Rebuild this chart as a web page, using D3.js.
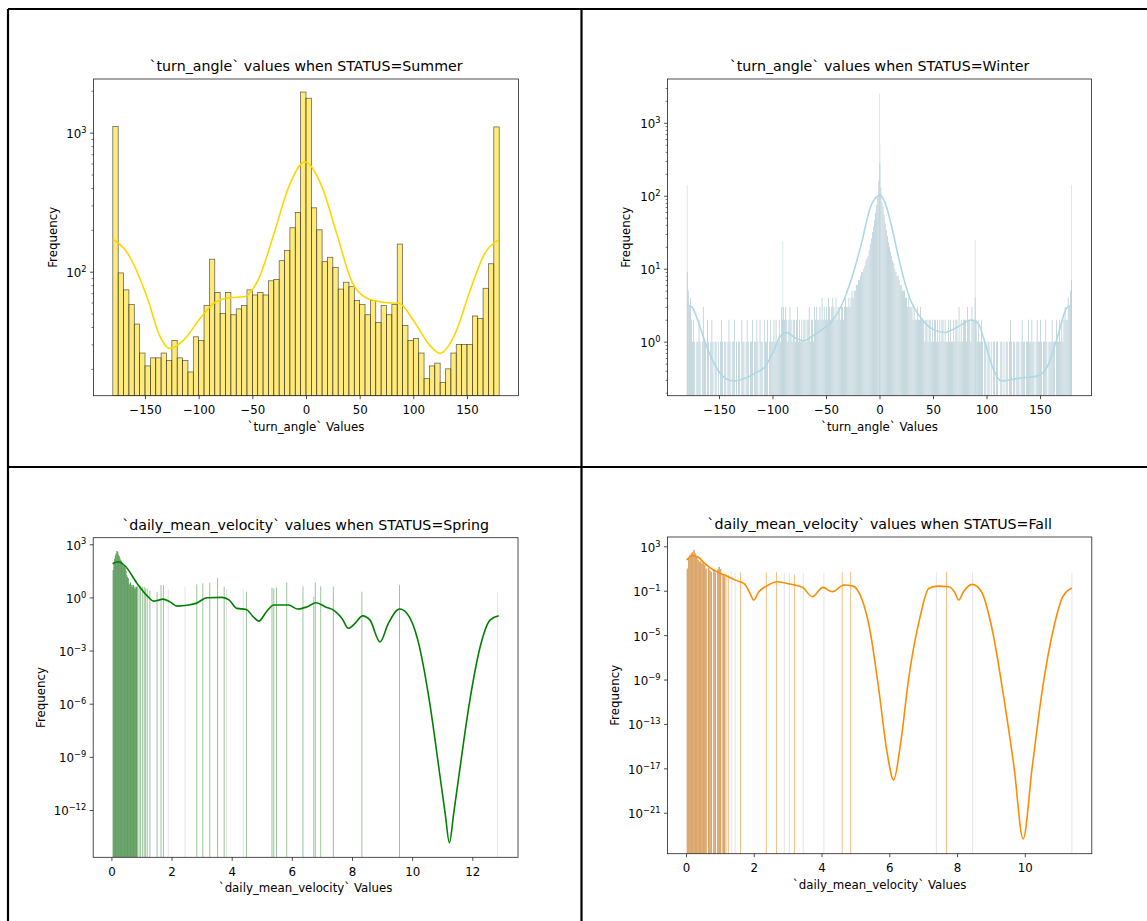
<!DOCTYPE html>
<html>
<head>
<meta charset="utf-8">
<script src="https://cdn.jsdelivr.net/npm/d3@7"></script>
<style>
  body { margin: 0; background: #fff; }
  svg { display: block; }
  text { font-family: "DejaVu Sans", sans-serif; fill: #000; }
</style>
</head>
<body>
<div id="chart"></div>
<script>
// ---- data ----

// turn_angle, Summer: 5 degree bins from -180
const summerStart = -180, summerWidth = 5;
const summerCounts = [
  1110, 98, 74, 58, 42, 26, 21, 24, 24, 26, 23, 32, 24, 23, 19, 34, 32, 57,
  123, 71, 50, 71, 49, 54, 57, 74, 68, 71, 68, 86, 88, 120, 142, 207, 267, 1960,
  1770, 288, 200, 118, 127, 107, 75, 84, 78, 62, 58, 49, 62, 43, 57, 49, 58, 158,
  41, 32, 33, 26, 17, 21, 22, 16, 20, 26, 30, 30, 30, 48, 46, 76, 114, 1100
];
const summerKde = [
  [-180, 171], [-168, 142], [-147, 62], [-137, 35.6], [-126.7, 28], [-112.7, 33],
  [-98.8, 46], [-85, 60], [-71.7, 65], [-57.8, 66], [-50.7, 73], [-43.8, 90],
  [-29.8, 188], [-16.2, 406], [-1, 616], [15, 406], [28.6, 188], [42.4, 86],
  [56, 65], [73.6, 60], [87, 59], [100.6, 44], [114.6, 30], [124.9, 25.9],
  [138.8, 35.6], [152.8, 73], [166.5, 135], [179.5, 170]
];

// turn_angle, Winter: 1 degree bins from -180
const winterStart = -180, winterWidth = 1;
const winterCounts = [
  9, 5, 3, 4, 2, 1, 2, 1, 0, 1,   1, 2, 1, 0, 1, 3, 1, 1, 0, 2,
  1, 0, 1, 2, 1, 0, 1, 1, 0, 1,   0, 1, 2, 1, 0, 1, 1, 0, 1, 2,
  1, 0, 1, 1, 2, 0, 1, 0, 1, 1,   0, 2, 1, 1, 0, 1, 2, 1, 0, 1,
  1, 2, 0, 1, 1, 2, 1, 0, 2, 1,   1, 0, 2, 1, 1, 2, 0, 1, 2, 1,
  1, 2, 1, 2, 1, 1, 2, 1, 3, 2,   3, 2, 3, 2, 1, 2, 3, 2, 1, 2,
  2, 1, 2, 3, 1, 2, 1, 2, 1, 2,   2, 1, 2, 2, 3, 1, 2, 2, 1, 3,
  2, 3, 2, 2, 3, 2, 4, 2, 3, 2,   3, 2, 4, 3, 2, 3, 4, 3, 2, 4,
  2, 3, 3, 2, 3, 3, 2, 3, 4, 3,   3, 4, 3, 4, 5, 4, 5, 5, 6, 6,
  7, 7, 8, 9, 9, 10, 11, 13, 14, 15,   18, 22, 26, 32, 38, 46, 58, 75, 100, 160,
  280, 130, 83, 70, 54, 42, 34, 28, 23, 20,   17, 15, 13, 12, 10, 9, 8, 8, 7, 6,
  6, 5, 5, 5, 4, 4, 3, 4, 3, 3,   3, 2, 3, 2, 2, 3, 2, 2, 3, 2,
  2, 2, 1, 2, 2, 1, 2, 2, 1, 2,   1, 2, 2, 1, 2, 1, 2, 1, 2, 2,
  1, 2, 1, 1, 2, 1, 2, 1, 1, 2,   1, 2, 2, 1, 3, 1, 2, 1, 2, 2,
  2, 1, 3, 2, 2, 1, 3, 2, 2, 4,   2, 1, 2, 1, 1, 2, 1, 0, 1, 1,
  0, 1, 1, 0, 1, 0, 1, 1, 0, 1,   1, 0, 0, 1, 1, 0, 1, 0, 1, 1,
  0, 1, 2, 1, 0, 1, 1, 0, 1, 1,   1, 0, 1, 2, 1, 1, 0, 1, 1, 2,
  1, 1, 2, 1, 1, 0, 1, 2, 1, 1,   2, 1, 0, 1, 1, 2, 1, 0, 1, 1,
  1, 2, 1, 1, 0, 2, 1, 1, 2, 1,   2, 1, 2, 3, 2, 2, 4, 3, 5, 7
];
const winterSpikes = [[-179.6, 140], [-90.4, 24], [0, 2500], [0.4, 520], [89.5, 25], [179.4, 140]];
const winterKde = [
  [-180, 3.18], [-175.5, 3.0], [-169.3, 1.88], [-163, 1.0], [-156.8, 0.59],
  [-147.5, 0.35], [-136.6, 0.29], [-125.7, 0.315], [-116.4, 0.37], [-107, 0.455],
  [-99.2, 0.73], [-93, 1.17], [-86.7, 1.33], [-80.5, 1.17], [-71.2, 1.03],
  [-63.4, 1.17], [-54, 1.45], [-44.7, 1.88], [-35.3, 3.18], [-26, 7.4],
  [-16.6, 23], [-8.9, 67], [-2.6, 97], [0.3, 102], [4.8, 83], [11, 40],
  [17.3, 15.4], [23.5, 6.6], [29.7, 3.5], [39, 2.1], [48.4, 1.52], [61, 1.34],
  [73.4, 1.6], [85.9, 1.98], [92.1, 1.79], [98.3, 1.0], [106.1, 0.43],
  [113.9, 0.29], [129.5, 0.315], [148.2, 0.34], [157.6, 0.48], [166.9, 1.24],
  [174.7, 2.87], [179.4, 3.18]
];

// daily_mean_velocity, Spring
const springStart = 0.04, springWidth = 0.025;
const springCounts = [
  35, 100, 150, 230, 300, 420, 380, 250, 210, 160, 130, 110, 90, 80, 56, 60, 45,
  30, 18, 14, 12, 6, 5, 7, 4, 5, 4, 5, 3, 4, 3, 4, 3
];
const springSparse = [
  [0.87, 4.3], [0.92, 3.5], [0.97, 4.5], [1.03, 4], [1.09, 4], [1.13, 3.2],
  [1.19, 3.2], [1.28, 2.5], [1.52, 2.1], [1.65, 5], [1.73, 4.9], [2.84, 5.4],
  [3.04, 6.2], [3.27, 6.6], [3.53, 12.8], [3.75, 4], [4.49, 2.1], [5.34, 3.6],
  [5.40, 3.2], [5.49, 3.6], [5.83, 7], [6.37, 4.2], [6.73, 1.1], [6.78, 7],
  [6.96, 4.2], [7.38, 4], [8.33, 2.1], [9.58, 4.9]
];
const springGhost = [[1.89, 3], [2.45, 4], [3.83, 3], [4.38, 3], [12.84, 2.1]];
const springKde = [
  [0.04, 80], [0.23, 102], [0.48, 54], [0.85, 6.2], [1.22, 1.07], [1.4, 0.62],
  [1.55, 0.68], [1.71, 0.8], [1.95, 0.56], [2.2, 0.32], [2.57, 0.37], [2.81, 0.46],
  [3.18, 0.95], [3.68, 1.0], [3.92, 0.7], [4.17, 0.24], [4.48, 0.21], [4.72, 0.08],
  [4.9, 0.046], [5.15, 0.15], [5.4, 0.37], [5.89, 0.37], [6.2, 0.22], [6.5, 0.29],
  [6.81, 0.5], [7.12, 0.29], [7.43, 0.17], [7.67, 0.065], [7.88, 0.018], [8.1, 0.034],
  [8.35, 0.091], [8.6, 0.052], [8.93, 0.0031], [9.21, 0.034], [9.58, 0.22],
  [9.83, 0.125], [10.19, 0.0039], [10.57, 1.6e-6], [10.93, 7.3e-11], [11.1, 6e-13],
  [11.24, 1.4e-14], [11.38, 6e-13], [11.55, 7.3e-11], [11.92, 1.6e-6],
  [12.29, 0.0025], [12.59, 0.052], [12.88, 0.091]
];

// daily_mean_velocity, Fall
const fallStart = 0.02, fallWidth = 0.039;
const fallCounts = [
  10, 83, 165, 234, 325, 465, 234, 116, 58, 41, 45, 29, 33, 21, 10, 0, 12, 7, 5,
  0, 9, 4, 0, 8, 14, 9, 0, 3, 2
];
const fallSparse = [
  [1.18, 3], [1.25, 2.5], [1.61, 4.5], [2.37, 4.5], [2.67, 5.2], [3.2, 3],
  [4.61, 4.5], [4.86, 5.2], [7.69, 5.2]
];
const fallGhost = [
  [1.35, 5], [1.45, 4], [2.9, 4], [3.05, 4], [3.46, 4], [4.07, 4], [7.39, 4.5],
  [8.46, 4.5], [11.39, 4]
];
const fallKde = [
  [0.02, 58], [0.18, 141], [0.34, 116], [0.55, 29], [0.82, 7], [1.14, 2.6],
  [1.46, 0.9], [1.73, 0.4], [1.89, 0.058], [2.0, 0.0145], [2.15, 0.081],
  [2.37, 0.26], [2.69, 0.65], [3.06, 0.4], [3.44, 0.2], [3.73, 0.029], [4.04, 0.2],
  [4.32, 0.081], [4.66, 0.33], [4.93, 0.26], [5.2, 0.0145], [5.41, 5.7e-5],
  [5.68, 2.2e-10], [5.94, 2.2e-16], [6.13, 8.9e-19], [6.32, 8.9e-16], [6.58, 1.8e-9],
  [6.91, 4.6e-4], [7.17, 0.165], [7.44, 0.26], [7.76, 0.23], [7.92, 0.081],
  [8.05, 0.0145], [8.19, 0.081], [8.45, 0.37], [8.72, 0.081], [9.04, 2.9e-5],
  [9.36, 5.7e-11], [9.68, 1.4e-17], [9.95, 4.3e-24], [10.22, 1.4e-17],
  [10.53, 2.2e-10], [10.86, 5.7e-5], [11.12, 0.029], [11.39, 0.175]
];

// tick labels
const angleTicks = [-150, -100, -50, 0, 50, 100, 150];
const springTicks = [0, 2, 4, 6, 8, 10, 12];
const fallTicks = [0, 2, 4, 6, 8, 10];
const summerExp = [2, 3];
const winterExp = [0, 1, 2, 3];
const springExp = [-12, -9, -6, -3, 0, 3];
const fallExp = [-21, -17, -13, -9, -5, -1, 3];

// ---- drawing ----
const tickFont = 11.8, titleFont = 14.2;

const svg = d3.select('#chart').append('svg')
    .attr('width', 1147)
    .attr('height', 921);

const minus = s => String(s).replace('-', '\u2212');

function drawPanel(p) {
  const x = d3.scaleLinear().domain(p.xDomain).range([p.left, p.right]);
  const y = d3.scaleLog().domain(p.yDomain).range([p.bottom, p.top]);

  svg.append('clipPath').attr('id', 'clip' + p.id)
    .append('rect')
    .attr('x', p.left).attr('y', p.top)
    .attr('width', p.right - p.left).attr('height', p.bottom - p.top);

  const g = svg.append('g');
  const plot = g.append('g').attr('clip-path', `url(#clip${p.id})`);

  // faint lines of very narrow bins
  plot.append('g').selectAll('rect')
    .data(p.ghost || [])
    .join('rect')
    .attr('x', d => x(d[0]) - 0.5)
    .attr('width', 1)
    .attr('y', d => y(d[1]))
    .attr('height', d => p.bottom - y(d[1]))
    .attr('fill', p.ghostColor || '#e4e4e4');

  const bins = p.counts
    .map((c, i) => ({x0: p.start + i * p.width, x1: p.start + (i + 1) * p.width, c}))
    .filter(d => d.c > 0);

  plot.append('g').selectAll('rect')
    .data(bins)
    .join('rect')
    .attr('x', d => x(d.x0))
    .attr('width', d => (x(d.x1) - x(d.x0)) * p.barScale + p.barPad)
    .attr('y', d => y(d.c))
    .attr('height', d => p.bottom - y(d.c))
    .attr('fill', p.barColor)
    .attr('fill-opacity', p.barOpacity)
    .attr('stroke', p.edge ? '#222' : 'none')
    .attr('stroke-opacity', 0.75)
    .attr('stroke-width', 0.7);

  plot.append('g').selectAll('rect')
    .data(p.sparse || [])
    .join('rect')
    .attr('x', d => x(d[0]) - 0.5)
    .attr('width', 1)
    .attr('y', d => y(d[1]))
    .attr('height', d => p.bottom - y(d[1]))
    .attr('fill', p.sparseColor);

  const line = d3.line()
    .x(d => x(d[0]))
    .y(d => y(d[1]))
    .curve(d3.curveMonotoneX);

  plot.append('path')
    .datum(p.kde)
    .attr('d', line)
    .attr('fill', 'none')
    .attr('stroke', p.lineColor)
    .attr('stroke-width', 1.6);

  // frame
  g.append('rect')
    .attr('x', p.left).attr('y', p.top)
    .attr('width', p.right - p.left).attr('height', p.bottom - p.top)
    .attr('fill', 'none')
    .attr('stroke', '#222')
    .attr('stroke-width', 0.8);

  // x axis
  const xa = g.append('g')
    .attr('transform', `translate(0,${p.bottom})`)
    .call(d3.axisBottom(x).tickValues(p.xTicks).tickSize(3.5).tickPadding(6.5)
      .tickFormat(d => minus(d)));
  xa.select('.domain').remove();
  xa.selectAll('line').attr('stroke', '#222').attr('stroke-width', 0.8);
  xa.selectAll('text').attr('font-size', tickFont).attr('font-family', '"DejaVu Sans", sans-serif');

  // y axis, major
  const majors = p.exps.map(e => Math.pow(10, e));
  const ya = g.append('g')
    .attr('transform', `translate(${p.left},0)`)
    .call(d3.axisLeft(y).tickValues(majors).tickSize(3.5).tickFormat(''));
  ya.select('.domain').remove();
  ya.selectAll('line').attr('stroke', '#222').attr('stroke-width', 0.8);

  if (p.minor) {
    const minors = [];
    for (let e = -2; e < 5; e++) {
      for (let k = 2; k < 10; k++) {
        const v = k * Math.pow(10, e);
        if (v >= p.yDomain[0] && v <= p.yDomain[1]) minors.push(v);
      }
    }
    const ym = g.append('g')
      .attr('transform', `translate(${p.left},0)`)
      .call(d3.axisLeft(y).tickValues(minors).tickSize(2).tickFormat(''));
    ym.select('.domain').remove();
    ym.selectAll('line').attr('stroke', '#222').attr('stroke-width', 0.6);
  }

  const lab = g.append('g').selectAll('text')
    .data(p.exps)
    .join('text')
    .attr('x', p.left - 7)
    .attr('y', e => y(Math.pow(10, e)) + 5.5)
    .attr('text-anchor', 'end')
    .attr('font-size', tickFont);
  lab.append('tspan').text('10');
  lab.append('tspan')
    .attr('font-size', 8.3)
    .attr('dy', -5.3)
    .text(e => minus(e));

  // texts
  g.append('text')
    .attr('x', (p.left + p.right) / 2)
    .attr('y', p.top - 8)
    .attr('text-anchor', 'middle')
    .attr('font-size', titleFont)
    .text(p.title);

  g.append('text')
    .attr('x', (p.left + p.right) / 2)
    .attr('y', p.bottom + 35)
    .attr('text-anchor', 'middle')
    .attr('font-size', tickFont)
    .text(p.xLabel);

  g.append('text')
    .attr('transform', `translate(${p.yLabelX},${(p.top + p.bottom) / 2}) rotate(-90)`)
    .attr('text-anchor', 'middle')
    .attr('font-size', tickFont)
    .text('Frequency');
}

drawPanel({
  id: 1, left: 93.5, right: 518.5, top: 79, bottom: 395.7,
  xDomain: [-198, 198], yDomain: [Math.pow(10, 1.108), Math.pow(10, 3.386)],
  start: summerStart, width: summerWidth, counts: summerCounts, barScale: 1, barPad: 0,
  kde: summerKde, barColor: '#FFD700', barOpacity: 0.52, edge: true,
  lineColor: '#FFD700', xTicks: angleTicks, exps: summerExp, minor: true,
  title: '`turn_angle` values when STATUS=Summer', xLabel: '`turn_angle` Values', yLabelX: 56.5
});

drawPanel({
  id: 2, left: 667.6, right: 1091.4, top: 79, bottom: 395.7,
  xDomain: [-198, 198], yDomain: [Math.pow(10, -0.74), Math.pow(10, 3.6)],
  start: winterStart, width: winterWidth, counts: winterCounts, barScale: 0.7, barPad: 0,
  ghost: winterSpikes, ghostColor: '#dce8ec',
  kde: winterKde, barColor: '#b4ccd5', barOpacity: 1, edge: false,
  lineColor: '#ADD8E6', xTicks: angleTicks, exps: winterExp, minor: true,
  title: '`turn_angle` values when STATUS=Winter', xLabel: '`turn_angle` Values', yLabelX: 630.3
});

drawPanel({
  id: 3, left: 93.2, right: 518, top: 537.7, bottom: 857.3,
  xDomain: [-0.605, 13.52], yDomain: [Math.pow(10, -14.67), Math.pow(10, 3.37)],
  start: springStart, width: springWidth, counts: springCounts, barScale: 1, barPad: 0.45,
  sparse: springSparse, sparseColor: '#9cc59c', ghost: springGhost,
  kde: springKde, barColor: '#64a064', barOpacity: 1, edge: false,
  lineColor: '#008000', xTicks: springTicks, exps: springExp, minor: false,
  title: '`daily_mean_velocity` values when STATUS=Spring', xLabel: '`daily_mean_velocity` Values', yLabelX: 44.7
});

drawPanel({
  id: 4, left: 667.5, right: 1091.8, top: 537, bottom: 853.7,
  xDomain: [-0.546, 11.977], yDomain: [Math.pow(10, -24.69), Math.pow(10, 3.84)],
  start: fallStart, width: fallWidth, counts: fallCounts, barScale: 1, barPad: 0.3,
  sparse: fallSparse, sparseColor: '#f5bd82', ghost: fallGhost,
  kde: fallKde, barColor: '#dba66c', barOpacity: 1, edge: false,
  lineColor: '#FF8C00', xTicks: fallTicks, exps: fallExp, minor: false,
  title: '`daily_mean_velocity` values when STATUS=Fall', xLabel: '`daily_mean_velocity` Values', yLabelX: 619
});

// black frame lines between the four images
const frame = [
  [8, 9, 1147, 9], [8, 9, 8, 921], [581.5, 9, 581.5, 921], [8, 467, 1147, 467]
];
svg.append('g').selectAll('line')
  .data(frame)
  .join('line')
  .attr('x1', d => d[0]).attr('y1', d => d[1])
  .attr('x2', d => d[2]).attr('y2', d => d[3])
  .attr('stroke', '#000')
  .attr('stroke-width', 2.2);
</script>
</body>
</html>
